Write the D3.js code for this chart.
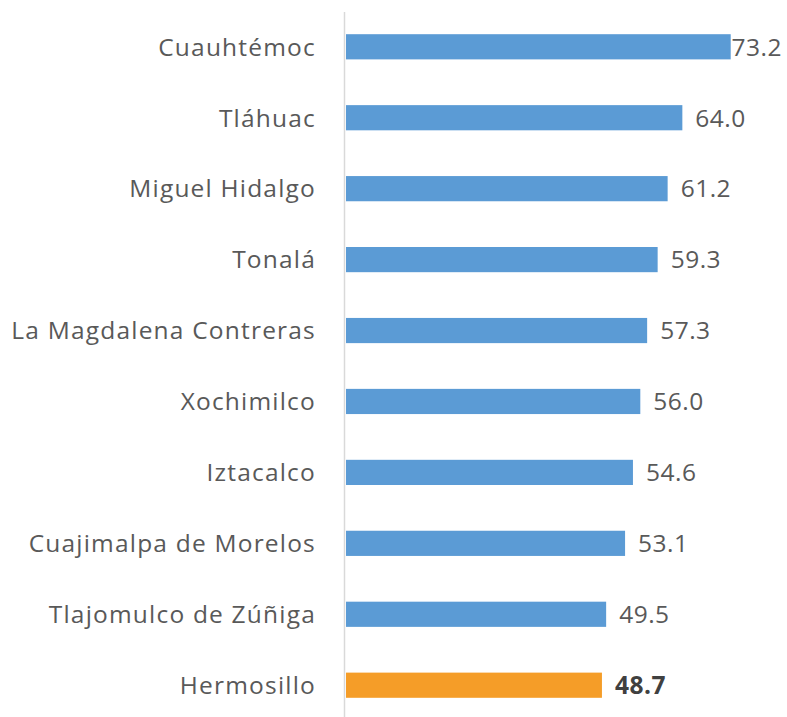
<!DOCTYPE html>
<html><head><meta charset="utf-8">
<script src="https://cdn.jsdelivr.net/npm/d3@7"></script>
<style>body{margin:0;background:#fff}svg{display:block}</style>
</head><body>
<svg id="c" width="787" height="717"></svg>
<script>
const categories = ["Cuauhtémoc","Tláhuac","Miguel Hidalgo","Tonalá","La Magdalena Contreras","Xochimilco","Iztacalco","Cuajimalpa de Morelos","Tlajomulco de Zúñiga","Hermosillo"];
const values = [73.2,64.0,61.2,59.3,57.3,56.0,54.6,53.1,49.5,48.7];
const highlight = ["Hermosillo"];

const W = 787, H = 717;
const FONT = "'Open Sans', sans-serif";
const svg = d3.select("#c");
const x0 = 346;
const x = d3.scaleLinear().domain([0, 73.2]).range([x0, 730.7]);
const y = d3.scaleBand().domain(categories).range([11.5, 720.5]).paddingInner(0.645).paddingOuter(0.32);

svg.append("line").attr("x1", 344.5).attr("x2", 344.5).attr("y1", 12).attr("y2", H)
  .attr("stroke", "#d9d9d9").attr("stroke-width", 1.5);

const g = svg.append("g");
categories.forEach((c, i) => {
  const v = values[i];
  const hl = highlight.includes(c);
  g.append("rect").attr("x", x(0)).attr("y", y(c)).attr("width", x(v) - x(0)).attr("height", y.bandwidth())
    .attr("fill", hl ? "#f59d28" : "#5b9bd5");
  g.append("text").attr("x", 316).attr("y", y(c) + y.bandwidth()/2).attr("dy", "0.36em")
    .attr("text-anchor", "end").attr("font-family", FONT).attr("font-size", 24.5)
    .attr("letter-spacing", 1.2)
    .attr("fill", "#595959").text(c);
  const t = g.append("text").attr("y", y(c) + y.bandwidth()/2).attr("dy", "0.36em")
    .attr("font-family", FONT).attr("font-size", 24.5).attr("letter-spacing", 0.5)
    .attr("font-weight", hl ? "bold" : "normal")
    .attr("fill", hl ? "#404040" : "#595959").text(d3.format(".1f")(v));
  const tw = t.node().getComputedTextLength();
  t.attr("x", Math.min(x(v) + 13, W - 5 - tw));
});
</script>
</body></html>
